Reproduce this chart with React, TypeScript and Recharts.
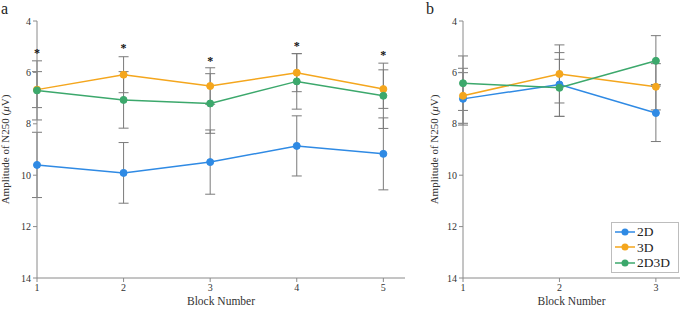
import { ComposedChart, Line, XAxis, YAxis, ErrorBar, Legend } from "recharts";

// Panel a
const blocksA = [1, 2, 3, 4, 5];
const a2D = [9.6, 9.91, 9.49, 8.86, 9.17];
const a2DErr = [1.27, 1.18, 1.25, 1.17, 1.4];
const a3D = [6.67, 6.09, 6.53, 6.01, 6.65];
const a3DErr = [0.7, 0.7, 0.71, 0.74, 0.75];
const a2D3D = [6.7, 7.07, 7.21, 6.35, 6.91];
const a2D3DErr = [1.15, 1.1, 1.16, 1.08, 1.27];
const aStars = [5.17, 4.96, 5.48, 4.91, 5.26];

// Panel b
const blocksB = [1, 2, 3];
const b2D = [7.03, 6.47, 7.58];
const b2DErr = [1.02, 1.24, 1.11];
const b3D = [6.91, 6.06, 6.56];
const b3DErr = [1.07, 1.13, 0.9];
const b2D3D = [6.42, 6.6, 5.55];
const b2D3DErr = [1.06, 1.11, 0.98];

const yTicks = [4, 6, 8, 10, 12, 14];

const BLUE = "#2f8ae4";
const ORANGE = "#f4a61d";
const GREEN = "#3ca86c";
const ERR = "#7a7a7a";
const AXIS = "#8a8a8a";
const FONT = "'Liberation Serif', 'Times New Roman', serif";

const dataA = blocksA.map((b, i) => ({
  block: b,
  d2: a2D[i], e2: a2DErr[i],
  d3: a3D[i], e3: a3DErr[i],
  d23: a2D3D[i], e23: a2D3DErr[i],
  star: aStars[i],
}));

const dataB = blocksB.map((b, i) => ({
  block: b,
  d2: b2D[i], e2: b2DErr[i],
  d3: b3D[i], e3: b3DErr[i],
  d23: b2D3D[i], e23: b2D3DErr[i],
}));

const tickStyle = { fontFamily: FONT, fontSize: 10, fill: "#333" };

function YTitle(props: any) {
  const { viewBox, dx } = props;
  const x = viewBox.x + dx;
  const y = viewBox.y + viewBox.height / 2;
  return (
    <text
      x={x}
      y={y}
      transform={`rotate(-90, ${x}, ${y})`}
      textAnchor="middle"
      dominantBaseline="central"
      fontFamily={FONT}
      fontSize={11}
      fill="#333"
    >
      Amplitude of N250 (<tspan fontStyle="italic">μ</tspan>V)
    </text>
  );
}

const Star = (props: any) => {
  const { cx, cy } = props;
  if (cx == null || cy == null) return null;
  return (
    <text x={cx} y={cy + 6} textAnchor="middle" fontFamily={FONT} fontSize={12} fontWeight="bold" fill="#111">
      *
    </text>
  );
};

const dot = (color: string) => ({ r: 3.5, fill: color, stroke: color, strokeWidth: 1 });

function LegendBox() {
  const items = [
    { name: "2D", color: BLUE },
    { name: "3D", color: ORANGE },
    { name: "2D3D", color: GREEN },
  ];
  return (
    <div
      style={{
        border: "1px solid #bdbdbd",
        background: "#fff",
        padding: "1px 8px 1px 2px",
        fontFamily: FONT,
        fontSize: 13.5,
        lineHeight: "15.5px",
        color: "#222",
      }}
    >
      {items.map((it) => (
        <div key={it.name} style={{ display: "flex", alignItems: "center" }}>
          <svg width={22} height={10} style={{ marginRight: 1 }}>
            <line x1={1} y1={5} x2={21} y2={5} stroke={it.color} strokeWidth={1.5} />
            <circle cx={11} cy={5} r={3.5} fill={it.color} />
          </svg>
          {it.name}
        </div>
      ))}
    </div>
  );
}

const panelLabel = { position: "absolute" as const, top: 1, fontFamily: FONT, fontSize: 16, lineHeight: "16px", color: "#222" };

export default function App() {
  return (
    <div style={{ position: "absolute", left: 0, top: 0, width: 680, height: 313, background: "#fff" }}>
      <div style={{ ...panelLabel, left: 1 }}>a</div>
      <div style={{ ...panelLabel, left: 426 }}>b</div>

      <div style={{ position: "absolute", left: 0, top: 0 }}>
        <ComposedChart width={420} height={313} data={dataA} margin={{ top: 21, right: 15, bottom: 0, left: 0 }}>
          <XAxis
            dataKey="block"
            type="number"
            domain={[1, 5.25]}
            ticks={blocksA}
            tick={tickStyle}
            tickSize={4}
            stroke={AXIS}
            height={35}
            label={{ value: "Block Number", position: "insideBottom", offset: 8, style: { fontFamily: FONT, fontSize: 11.5, fill: "#333" } }}
          />
          <YAxis
            reversed
            domain={[4, 14]}
            ticks={yTicks}
            tick={tickStyle}
            tickSize={4}
            stroke={AXIS}
            width={37}
            label={<YTitle dx={5} />}
          />
          <Line dataKey="d2" stroke={BLUE} strokeWidth={1.5} dot={dot(BLUE)} isAnimationActive={false}>
            <ErrorBar dataKey="e2" direction="y" width={5} stroke={ERR} strokeWidth={1} />
          </Line>
          <Line dataKey="d3" stroke={ORANGE} strokeWidth={1.5} dot={dot(ORANGE)} isAnimationActive={false}>
            <ErrorBar dataKey="e3" direction="y" width={5} stroke={ERR} strokeWidth={1} />
          </Line>
          <Line dataKey="d23" stroke={GREEN} strokeWidth={1.5} dot={dot(GREEN)} isAnimationActive={false}>
            <ErrorBar dataKey="e23" direction="y" width={5} stroke={ERR} strokeWidth={1} />
          </Line>
          <Line dataKey="star" stroke="none" dot={<Star />} activeDot={false} isAnimationActive={false} />
        </ComposedChart>
      </div>

      <div style={{ position: "absolute", left: 420, top: 0 }}>
        <ComposedChart width={260} height={313} data={dataB} margin={{ top: 21, right: 0, bottom: 0, left: 0 }}>
          <XAxis
            dataKey="block"
            type="number"
            domain={[1, 3.25]}
            ticks={blocksB}
            tick={tickStyle}
            tickSize={4}
            stroke={AXIS}
            height={35}
            label={{ value: "Block Number", position: "insideBottom", offset: 8, style: { fontFamily: FONT, fontSize: 11.5, fill: "#333" } }}
          />
          <YAxis
            reversed
            domain={[4, 14]}
            ticks={yTicks}
            tick={tickStyle}
            tickSize={4}
            stroke={AXIS}
            width={43}
            label={<YTitle dx={14} />}
          />
          <Line dataKey="d2" stroke={BLUE} strokeWidth={1.5} dot={dot(BLUE)} isAnimationActive={false}>
            <ErrorBar dataKey="e2" direction="y" width={5} stroke={ERR} strokeWidth={1} />
          </Line>
          <Line dataKey="d3" stroke={ORANGE} strokeWidth={1.5} dot={dot(ORANGE)} isAnimationActive={false}>
            <ErrorBar dataKey="e3" direction="y" width={5} stroke={ERR} strokeWidth={1} />
          </Line>
          <Line dataKey="d23" stroke={GREEN} strokeWidth={1.5} dot={dot(GREEN)} isAnimationActive={false}>
            <ErrorBar dataKey="e23" direction="y" width={5} stroke={ERR} strokeWidth={1} />
          </Line>
          <Legend
            layout="horizontal"
            verticalAlign="middle"
            align="center"
            content={<LegendBox />}
            wrapperStyle={{ position: "absolute", left: 191, top: 222, width: "auto" }}
          />
        </ComposedChart>
      </div>
    </div>
  );
}
